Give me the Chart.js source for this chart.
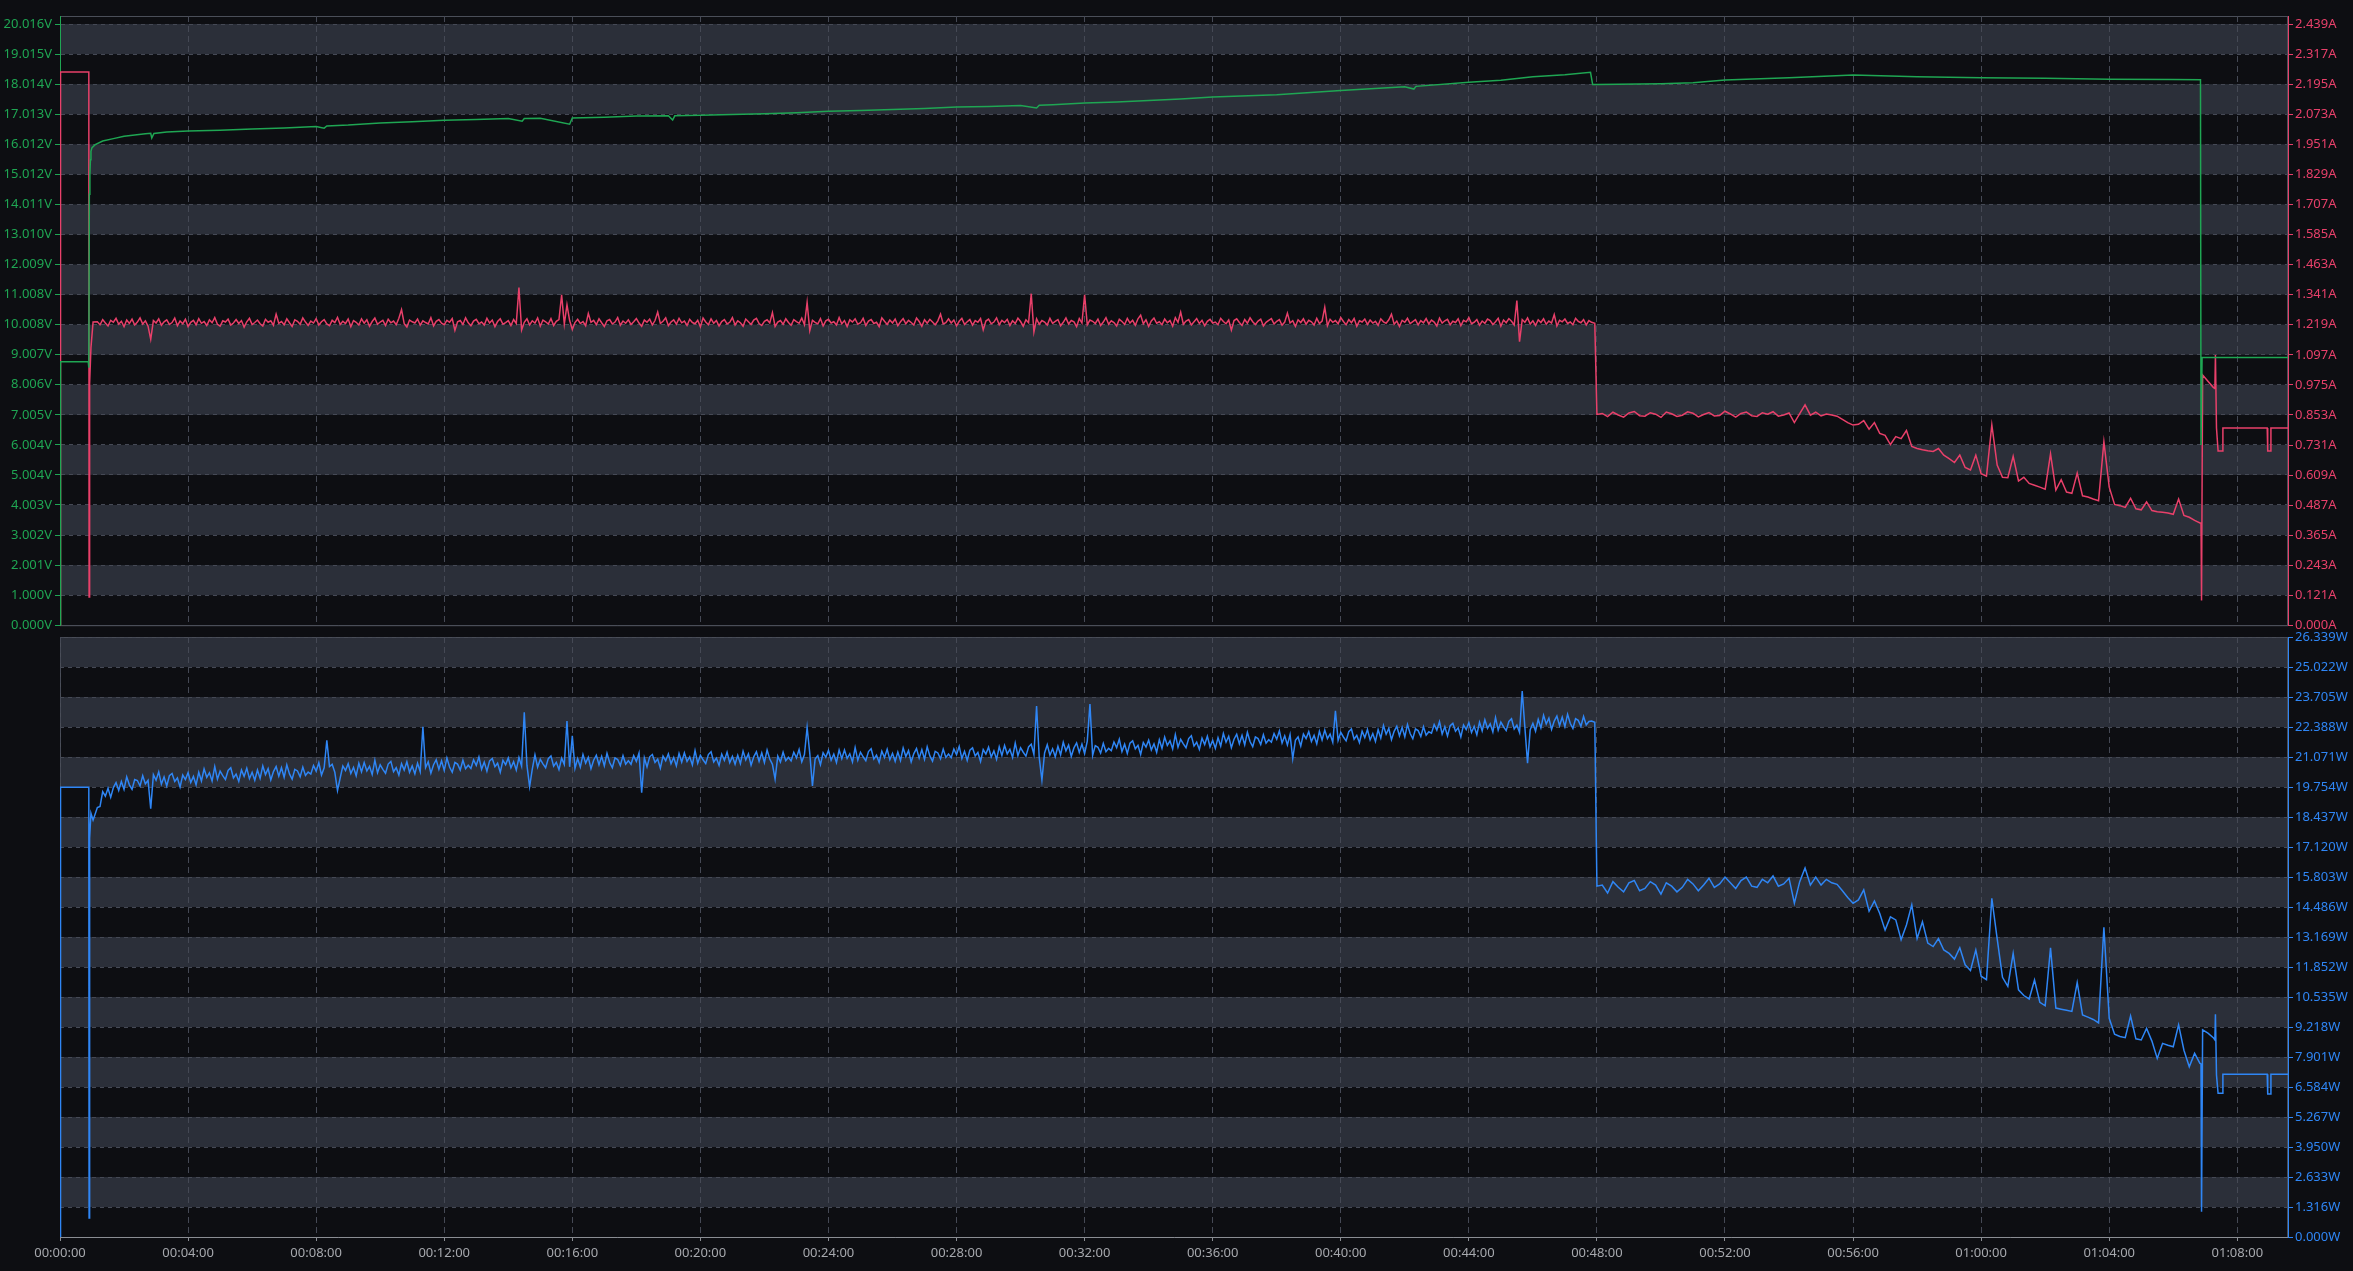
<!DOCTYPE html>
<html lang="en">
<head>
    <meta charset="UTF-8">
    <title>Voltage / Current / Power</title>
    <script src="https://cdn.jsdelivr.net/npm/chart.js"></script>
    <style>
        html, body { margin: 0; padding: 0; background: #0d0e12; overflow: hidden; }
        .wrap { position: absolute; left: 0; width: 2353px; }
        #topWrap { top: 0; height: 636px; }
        #bottomWrap { top: 624px; height: 647px; }
    </style>
</head>
<body>
    <div class="wrap" id="topWrap"><canvas id="topChart"></canvas></div>
    <div class="wrap" id="bottomWrap"><canvas id="bottomChart"></canvas></div>

    <script>
        // time axis, seconds
        const timeMax = 4175;
        const timeTickStep = 240;

        // axis tick labels as shown
        const voltTicks = [0.000, 1.000, 2.001, 3.002, 4.003, 5.004, 6.004, 7.005, 8.006, 9.007, 10.008,
            11.008, 12.009, 13.010, 14.011, 15.012, 16.012, 17.013, 18.014, 19.015, 20.016];
        const ampTicks = [0.000, 0.121, 0.243, 0.365, 0.487, 0.609, 0.731, 0.853, 0.975, 1.097, 1.219,
            1.341, 1.463, 1.585, 1.707, 1.829, 1.951, 2.073, 2.195, 2.317, 2.439];
        const wattTicks = [0.000, 1.316, 2.633, 3.950, 5.267, 6.584, 7.901, 9.218, 10.535, 11.852, 13.169,
            14.486, 15.803, 17.120, 18.437, 19.754, 21.071, 22.388, 23.705, 25.022, 26.339];

        // voltage (V), irregular samples
        const voltTimes = [0, 1, 53, 54, 55, 56, 57, 58, 60, 66, 80, 100, 120, 140, 160, 170, 172, 176, 200, 240,
            300, 360, 420, 480, 495, 500, 540, 600, 660, 720, 780, 840, 866, 870, 900, 955, 960, 1020, 1080, 1140,
            1148, 1152, 1200, 1260, 1320, 1380, 1440, 1500, 1560, 1620, 1680, 1740, 1800, 1830, 1835, 1860, 1920, 1980, 2040, 2100,
            2160, 2280, 2400, 2520, 2537, 2541, 2640, 2700, 2760, 2820, 2868, 2872, 2880, 3000, 3060, 3120, 3240, 3360, 3480, 3600,
            3720, 3840, 3960, 4011, 4012, 4014, 4175];
        const volts = [0, 8.77, 8.77, 8.57, 14.35, 15.0, 15.5, 15.78, 15.9, 16.0, 16.12, 16.2, 16.28, 16.32, 16.36, 16.38, 16.22, 16.37, 16.42, 16.45,
            16.48, 16.52, 16.55, 16.6, 16.55, 16.62, 16.65, 16.72, 16.76, 16.81, 16.84, 16.87, 16.78, 16.87, 16.88, 16.68, 16.89, 16.91, 16.95, 16.96,
            16.82, 16.96, 16.98, 17.0, 17.03, 17.06, 17.11, 17.14, 17.17, 17.2, 17.25, 17.27, 17.3, 17.22, 17.31, 17.33, 17.39, 17.42, 17.47, 17.52,
            17.59, 17.66, 17.8, 17.93, 17.85, 17.94, 18.08, 18.14, 18.26, 18.33, 18.41, 18.0, 18.0, 18.03, 18.06, 18.15, 18.23, 18.32, 18.26, 18.23,
            18.21, 18.18, 18.17, 18.16, 6.0, 8.91, 8.91];

        // sample grids used by current and power
        const plateauStart = 70, plateauStep = 5;    // 70 s .. 2870 s
        const declineStart = 2890, declineStep = 10; // 2890 s .. 4010 s

        // current (A)
        const ampStartTimes = [0, 1, 54, 54.5, 55, 56, 58, 62];
        const ampStart = [0, 2.244, 2.244, 0.114, 0.44, 0.98, 1.126, 1.23];
        const ampPlateau = [
            1.231, 1.219, 1.240, 1.226, 1.214, 1.237, 1.229, 1.245, 1.221, 1.233, 1.211, 1.238, 1.224, 1.242, 1.218, 1.230, 1.247, 1.222, 1.235, 1.213,
            1.160, 1.236, 1.226, 1.243, 1.217, 1.231, 1.239, 1.220, 1.228, 1.246, 1.215, 1.234, 1.223, 1.241, 1.212, 1.229, 1.237, 1.219, 1.244, 1.225,
            1.232, 1.216, 1.239, 1.227, 1.248, 1.221, 1.213, 1.235, 1.230, 1.242, 1.218, 1.226, 1.240, 1.224, 1.236, 1.209, 1.231, 1.245, 1.220, 1.228,
            1.238, 1.223, 1.214, 1.241, 1.229, 1.235, 1.217, 1.262, 1.225, 1.232, 1.219, 1.243, 1.227, 1.212, 1.239, 1.233, 1.221, 1.247, 1.230, 1.216,
            1.234, 1.226, 1.244, 1.218, 1.231, 1.240, 1.222, 1.215, 1.237, 1.228, 1.249, 1.220, 1.233, 1.224, 1.242, 1.211, 1.236, 1.229, 1.218, 1.243,
            1.225, 1.239, 1.213, 1.232, 1.246, 1.221, 1.230, 1.237, 1.216, 1.241, 1.227, 1.234, 1.219, 1.245, 1.280, 1.223, 1.210, 1.238, 1.231, 1.226,
            1.242, 1.217, 1.235, 1.228, 1.222, 1.248, 1.214, 1.233, 1.240, 1.225, 1.219, 1.237, 1.229, 1.244, 1.196, 1.231, 1.236, 1.220, 1.247, 1.227,
            1.215, 1.234, 1.241, 1.223, 1.230, 1.218, 1.245, 1.226, 1.238, 1.211, 1.232, 1.243, 1.221, 1.228, 1.236, 1.216, 1.240, 1.224, 1.370, 1.198,
            1.229, 1.243, 1.218, 1.235, 1.226, 1.247, 1.213, 1.238, 1.231, 1.222, 1.244, 1.216, 1.233, 1.240, 1.340, 1.221, 1.300, 1.236, 1.200, 1.228,
            1.241, 1.224, 1.232, 1.215, 1.265, 1.229, 1.237, 1.219, 1.243, 1.227, 1.212, 1.235, 1.240, 1.222, 1.230, 1.248, 1.217, 1.234, 1.225, 1.239,
            1.220, 1.231, 1.244, 1.226, 1.213, 1.238, 1.229, 1.242, 1.218, 1.236, 1.270, 1.224, 1.233, 1.247, 1.215, 1.230, 1.239, 1.221, 1.245, 1.227,
            1.234, 1.216, 1.241, 1.228, 1.223, 1.237, 1.211, 1.246, 1.230, 1.219, 1.243, 1.225, 1.236, 1.214, 1.232, 1.240, 1.222, 1.229, 1.248, 1.218,
            1.235, 1.227, 1.213, 1.242, 1.231, 1.220, 1.238, 1.245, 1.224, 1.216, 1.233, 1.239, 1.226, 1.268, 1.212, 1.230, 1.236, 1.221, 1.243, 1.228,
            1.217, 1.240, 1.232, 1.225, 1.246, 1.219, 1.310, 1.195, 1.237, 1.229, 1.222, 1.244, 1.214, 1.235, 1.241, 1.226, 1.231, 1.218, 1.248, 1.223,
            1.236, 1.212, 1.239, 1.230, 1.243, 1.221, 1.227, 1.245, 1.216, 1.234, 1.240, 1.224, 1.229, 1.211, 1.247, 1.233, 1.220, 1.238, 1.226, 1.242,
            1.215, 1.231, 1.244, 1.223, 1.237, 1.228, 1.218, 1.246, 1.232, 1.213, 1.239, 1.225, 1.241, 1.230, 1.219, 1.235, 1.262, 1.222, 1.227, 1.243,
            1.226, 1.238, 1.214, 1.233, 1.245, 1.220, 1.231, 1.240, 1.217, 1.236, 1.229, 1.244, 1.198, 1.234, 1.242, 1.223, 1.230, 1.247, 1.219, 1.237,
            1.228, 1.241, 1.216, 1.235, 1.224, 1.246, 1.232, 1.213, 1.239, 1.227, 1.345, 1.190, 1.243, 1.221, 1.236, 1.230, 1.218, 1.245, 1.225, 1.233,
            1.240, 1.215, 1.229, 1.247, 1.222, 1.236, 1.231, 1.211, 1.244, 1.226, 1.340, 1.219, 1.238, 1.233, 1.224, 1.242, 1.216, 1.230, 1.248, 1.221,
            1.235, 1.228, 1.214, 1.241, 1.232, 1.220, 1.245, 1.226, 1.237, 1.217, 1.243, 1.258, 1.223, 1.239, 1.212, 1.234, 1.246, 1.225, 1.231, 1.219,
            1.242, 1.227, 1.236, 1.213, 1.248, 1.229, 1.270, 1.221, 1.234, 1.240, 1.218, 1.231, 1.244, 1.224, 1.237, 1.215, 1.233, 1.241, 1.226, 1.230,
            1.219, 1.245, 1.232, 1.223, 1.238, 1.197, 1.236, 1.243, 1.228, 1.216, 1.240, 1.225, 1.247, 1.231, 1.220, 1.234, 1.242, 1.214, 1.229, 1.237,
            1.244, 1.222, 1.233, 1.240, 1.217, 1.230, 1.266, 1.226, 1.235, 1.212, 1.239, 1.228, 1.243, 1.221, 1.237, 1.231, 1.218, 1.245, 1.224, 1.234,
            1.290, 1.215, 1.241, 1.229, 1.236, 1.223, 1.248, 1.232, 1.219, 1.240, 1.227, 1.244, 1.213, 1.235, 1.230, 1.242, 1.220, 1.238, 1.226, 1.233,
            1.216, 1.243, 1.231, 1.225, 1.239, 1.262, 1.221, 1.234, 1.212, 1.237, 1.229, 1.245, 1.224, 1.232, 1.240, 1.218, 1.236, 1.227, 1.244, 1.222,
            1.238, 1.230, 1.214, 1.246, 1.226, 1.235, 1.241, 1.219, 1.233, 1.228, 1.243, 1.215, 1.237, 1.231, 1.248, 1.223, 1.229, 1.240, 1.217, 1.234,
            1.225, 1.242, 1.236, 1.220, 1.231, 1.245, 1.213, 1.238, 1.227, 1.244, 1.233, 1.218, 1.317, 1.150, 1.240, 1.229, 1.247, 1.222, 1.235, 1.216,
            1.239, 1.228, 1.243, 1.221, 1.234, 1.226, 1.260, 1.214, 1.237, 1.231, 1.242, 1.224, 1.230, 1.219, 1.245, 1.233, 1.227, 1.240, 1.218, 1.236,
            1.229];
        const ampDropTimes = [2876, 2880];
        const ampDrop = [1.225, 0.855];
        const ampDecline = [
            0.859, 0.846, 0.864, 0.853, 0.844, 0.861, 0.867, 0.850, 0.848, 0.862, 0.856, 0.843, 0.865, 0.858, 0.847, 0.852, 0.866, 0.860, 0.845, 0.855,
            0.863, 0.849, 0.851, 0.868, 0.857, 0.844, 0.859, 0.865, 0.850, 0.847, 0.862, 0.856, 0.866, 0.848, 0.853, 0.861, 0.822, 0.858, 0.894, 0.852,
            0.864, 0.849, 0.857, 0.853,
            0.848, 0.835, 0.822, 0.812, 0.815, 0.830, 0.795, 0.822, 0.778, 0.770, 0.733, 0.765, 0.757, 0.790, 0.725, 0.717, 0.712, 0.708, 0.705, 0.717,
            0.690, 0.676, 0.660, 0.690, 0.640, 0.630, 0.690, 0.615, 0.605, 0.813, 0.650, 0.600, 0.598, 0.685, 0.585, 0.600, 0.575, 0.568, 0.560, 0.552,
            0.695, 0.548, 0.590, 0.540, 0.535, 0.617, 0.525, 0.520, 0.512, 0.505, 0.744, 0.560, 0.490, 0.485, 0.478, 0.515, 0.472, 0.468, 0.500, 0.465,
            0.460, 0.458, 0.455, 0.450, 0.512, 0.445, 0.438, 0.425, 0.415];
        const ampEndTimes = [4012, 4013, 4015, 4025, 4035, 4038, 4039, 4041, 4044, 4052, 4053, 4136, 4137, 4142, 4143, 4175];
        const ampEnd = [0.415, 0.10, 1.015, 0.99, 0.965, 0.96, 1.096, 0.80, 0.707, 0.707, 0.80, 0.80, 0.707, 0.707, 0.80, 0.80];

        // power (W)
        const wattStartTimes = [0, 1, 54, 54.5, 55, 56, 58, 62];
        const wattStart = [0, 19.74, 19.74, 0.83, 15.0, 17.5, 18.6, 18.3];
        const wattPlateau = [
            18.85, 18.90, 19.55, 19.35, 19.70, 19.30, 19.73, 19.95, 19.60, 20.00, 19.65, 20.20, 19.85, 19.65, 20.08, 20.04, 19.80, 20.25, 19.89, 20.05,
            18.80, 20.30, 20.05, 20.42, 19.88, 20.20, 19.80, 20.25, 20.35, 20.00, 20.15, 19.75, 20.28, 20.08, 20.38, 19.95, 20.22, 19.85, 20.40, 20.02,
            20.55, 20.18, 20.38, 20.02, 20.65, 20.10, 20.45, 20.25, 20.08, 20.48, 20.60, 20.15, 20.32, 20.00, 20.50, 20.22, 20.58, 20.12, 20.40, 20.05,
            20.50, 20.13, 20.68, 20.30, 20.56, 20.06, 20.43, 20.65, 20.23, 20.60, 20.18, 20.73, 20.33, 20.10, 20.53, 20.46, 20.20, 20.63, 20.26, 20.41,
            20.32, 20.70, 20.45, 20.82, 20.28, 20.60, 21.80, 20.65, 20.75, 20.40, 19.60, 20.15, 20.68, 20.48, 20.78, 20.35, 20.62, 20.25, 20.80, 20.42,
            20.83, 20.46, 20.66, 20.30, 20.93, 20.38, 20.73, 20.53, 20.36, 20.76, 20.88, 20.43, 20.60, 20.28, 20.78, 20.50, 20.86, 20.40, 20.68, 20.33,
            20.80, 20.43, 22.40, 20.60, 20.86, 20.36, 20.73, 20.95, 20.53, 20.90, 20.48, 21.03, 20.63, 20.40, 20.83, 20.76, 20.50, 20.93, 20.56, 20.71,
            20.57, 20.95, 20.70, 21.07, 20.53, 20.85, 20.45, 20.90, 21.00, 20.65, 20.80, 20.40, 20.93, 20.73, 21.03, 20.60, 20.87, 20.50, 21.05, 20.67,
            23.03, 20.70, 19.77, 20.54, 21.17, 20.62, 20.97, 20.77, 20.60, 21.00, 21.12, 20.67, 20.84, 20.52, 21.02, 20.74, 22.65, 20.64, 22.00, 20.57,
            21.00, 20.63, 21.18, 20.80, 21.06, 20.56, 20.93, 21.15, 20.73, 21.10, 20.68, 21.23, 20.83, 20.60, 21.03, 20.96, 20.70, 21.13, 20.76, 20.91,
            20.75, 21.13, 20.88, 21.25, 19.50, 21.03, 20.63, 21.08, 21.18, 20.83, 20.98, 20.58, 21.11, 20.91, 21.21, 20.78, 21.05, 20.68, 21.23, 20.85,
            21.25, 20.88, 21.08, 20.72, 21.35, 20.80, 21.15, 20.95, 20.78, 21.18, 21.30, 20.85, 21.02, 20.70, 21.20, 20.92, 21.28, 20.82, 21.10, 20.75,
            21.15, 20.78, 21.33, 20.95, 21.21, 20.71, 21.08, 21.30, 20.88, 21.25, 20.83, 21.38, 20.98, 20.75, 20.10, 21.11, 20.85, 21.28, 20.91, 21.06,
            20.90, 21.28, 21.03, 21.40, 20.86, 21.18, 22.37, 21.23, 19.80, 20.98, 21.13, 20.73, 21.26, 21.06, 21.36, 20.93, 21.20, 20.83, 21.38, 21.00,
            21.38, 21.01, 21.21, 20.85, 21.48, 20.93, 21.28, 21.08, 20.91, 21.31, 21.43, 20.98, 21.15, 20.83, 21.33, 21.05, 21.41, 20.95, 21.23, 20.88,
            21.29, 20.92, 21.47, 21.09, 21.35, 20.85, 21.22, 21.44, 21.02, 21.39, 20.97, 21.52, 21.12, 20.89, 21.32, 21.25, 20.99, 21.42, 21.05, 21.20,
            21.04, 21.42, 21.17, 21.54, 21.00, 21.32, 20.92, 21.37, 21.47, 21.12, 21.27, 20.87, 21.40, 21.20, 21.50, 21.07, 21.34, 20.97, 21.52, 21.14,
            21.58, 21.21, 21.41, 21.05, 21.68, 21.13, 21.48, 21.28, 21.11, 21.51, 21.63, 21.18, 23.31, 21.03, 20.06, 21.25, 21.61, 21.15, 21.43, 21.08,
            21.54, 21.17, 21.72, 21.34, 21.60, 21.10, 21.47, 21.69, 21.27, 21.64, 21.22, 21.77, 23.40, 21.14, 21.57, 21.50, 21.24, 21.67, 21.30, 21.45,
            21.35, 21.73, 21.48, 21.85, 21.31, 21.63, 21.23, 21.68, 21.78, 21.43, 21.58, 21.18, 21.71, 21.51, 21.81, 21.38, 21.65, 21.28, 21.83, 21.45,
            21.95, 21.58, 21.78, 21.42, 22.05, 21.50, 21.85, 21.65, 21.48, 21.88, 22.00, 21.55, 21.72, 21.40, 21.90, 21.62, 21.98, 21.52, 21.80, 21.45,
            21.92, 21.55, 22.10, 21.72, 21.98, 21.48, 21.85, 22.07, 21.65, 22.02, 21.60, 22.15, 21.75, 21.52, 21.95, 21.88, 21.62, 22.05, 21.68, 21.83,
            21.72, 22.10, 21.85, 22.22, 21.68, 22.00, 21.60, 22.05, 21.00, 21.80, 21.95, 21.55, 22.08, 21.88, 22.18, 21.75, 22.02, 21.65, 22.20, 21.82,
            22.25, 21.88, 22.08, 21.72, 23.10, 21.80, 22.15, 21.95, 21.78, 22.18, 22.30, 21.85, 22.02, 21.70, 22.20, 21.92, 22.28, 21.82, 22.10, 21.75,
            22.27, 21.90, 22.45, 22.07, 22.33, 21.83, 22.20, 22.42, 22.00, 22.37, 21.95, 22.50, 22.10, 21.87, 22.30, 22.23, 21.97, 22.40, 22.03, 22.18,
            22.12, 22.50, 22.25, 22.62, 22.08, 22.40, 22.00, 22.45, 22.55, 22.20, 22.35, 21.95, 22.48, 22.28, 22.58, 22.15, 22.42, 22.05, 22.60, 22.22,
            22.70, 22.33, 22.53, 22.17, 22.80, 22.25, 22.60, 22.40, 22.23, 22.63, 22.75, 22.30, 22.47, 22.15, 23.97, 22.37, 20.80, 22.27, 22.55, 22.20,
            22.72, 22.35, 22.90, 22.52, 22.78, 22.28, 22.65, 22.87, 22.45, 22.82, 22.40, 22.95, 22.55, 22.32, 22.75, 22.68, 22.42, 22.85, 22.48, 22.63,
            22.65];
        const wattDropTimes = [2876, 2880];
        const wattDrop = [22.6, 15.4];
        const wattDecline = [
            15.45, 15.10, 15.60, 15.35, 15.15, 15.55, 15.65, 15.20, 15.30, 15.60, 15.45, 15.05, 15.55, 15.40, 15.15, 15.35, 15.70, 15.50, 15.20, 15.45,
            15.75, 15.35, 15.50, 15.80, 15.55, 15.30, 15.65, 15.80, 15.40, 15.35, 15.70, 15.55, 15.85, 15.40, 15.50, 15.75, 14.65, 15.60, 16.20, 15.45,
            15.80, 15.45, 15.70, 15.55,
            15.48, 15.20, 14.90, 14.65, 14.80, 15.24, 14.30, 14.75, 14.20, 13.47, 14.05, 13.92, 13.05, 13.70, 14.58, 13.10, 13.84, 12.90, 12.75, 13.10,
            12.60, 12.45, 12.20, 12.70, 11.95, 11.70, 12.60, 11.45, 11.30, 14.87, 13.10, 11.40, 11.00, 12.45, 10.85, 10.60, 10.45, 11.28, 10.30, 10.15,
            12.69, 10.05, 10.00, 9.95, 9.90, 11.17, 9.75, 9.65, 9.55, 9.40, 13.60, 9.60, 8.90, 8.80, 8.75, 9.70, 8.70, 8.65, 9.16, 8.60,
            7.84, 8.50, 8.42, 8.35, 9.31, 8.20, 7.47, 8.06, 7.62];
        const wattEndTimes = [4012, 4013, 4015, 4025, 4035, 4038, 4039, 4041, 4044, 4052, 4053, 4136, 4137, 4142, 4143, 4175];
        const wattEnd = [7.6, 1.11, 9.09, 8.95, 8.75, 8.65, 9.78, 7.11, 6.31, 6.31, 7.14, 7.14, 6.28, 6.28, 7.14, 7.14];

        // colours
        const bandColor = '#2b2f39';
        const gridColor = '#454955';
        const frameColor = '#4a4e58';
        const green = '#1fa653';
        const red = '#e8406a';
        const blue = '#2f86f5';
        const font = { family: 'Noto Sans', size: 13 };

        // helpers to turn the arrays into {x, y} points
        function pairs(times, values) {
            return times.map((t, i) => ({ x: t, y: values[i] }));
        }
        function sampled(start, step, values) {
            return values.map((v, i) => ({ x: start + i * step, y: v }));
        }

        const voltData = pairs(voltTimes, volts);
        const ampData = [].concat(
            pairs(ampStartTimes, ampStart),
            sampled(plateauStart, plateauStep, ampPlateau),
            pairs(ampDropTimes, ampDrop),
            sampled(declineStart, declineStep, ampDecline),
            pairs(ampEndTimes, ampEnd));
        const wattData = [].concat(
            pairs(wattStartTimes, wattStart),
            sampled(plateauStart, plateauStep, wattPlateau),
            pairs(wattDropTimes, wattDrop),
            sampled(declineStart, declineStep, wattDecline),
            pairs(wattEndTimes, wattEnd));

        function fmtTime(sec) {
            const h = Math.floor(sec / 3600);
            const m = Math.floor((sec % 3600) / 60);
            const s = Math.round(sec % 60);
            return [h, m, s].map(n => String(n).padStart(2, '0')).join(':');
        }

        // alternating bands between ticks + plot frame
        const bandPlugin = {
            id: 'bands',
            beforeDraw(chart, args, opts) {
                const { ctx, chartArea: a } = chart;
                const scale = chart.scales[opts.axis];
                ctx.save();
                ctx.fillStyle = bandColor;
                for (let i = 1; i < opts.ticks.length - 1; i += 2) {
                    const y1 = scale.getPixelForValue(opts.ticks[i]);
                    const y2 = scale.getPixelForValue(opts.ticks[i + 1]);
                    ctx.fillRect(a.left, y2, a.right - a.left, y1 - y2);
                }
                ctx.strokeStyle = frameColor;
                ctx.lineWidth = 1;
                ctx.strokeRect(a.left + 0.5, a.top + 0.5, a.right - a.left - 1, a.bottom - a.top);
                ctx.restore();
            }
        };

        function fixedTicks(list) {
            return scale => { scale.ticks = list.map(v => ({ value: v })); };
        }

        function timeAxis(showLabels) {
            return {
                type: 'linear',
                min: 0,
                max: timeMax,
                ticks: {
                    display: showLabels,
                    stepSize: timeTickStep,
                    includeBounds: false,
                    color: '#a6a8ad',
                    font: font,
                    padding: 4,
                    maxRotation: 0,
                    autoSkip: false,
                    callback: v => fmtTime(v)
                },
                grid: {
                    color: gridColor,
                    drawTicks: showLabels,
                    tickLength: 4,
                    tickColor: '#8a8d93'
                },
                border: { color: showLabels ? '#8a8d93' : frameColor, dash: [6, 4] },
                afterFit: s => { s.height = showLabels ? 34 : 7; }
            };
        }

        const lineStyle = { pointRadius: 0, borderWidth: 1.5, tension: 0, fill: false };

        new Chart(document.getElementById('topChart'), {
            type: 'line',
            data: {
                datasets: [
                    Object.assign({ label: 'Voltage', data: voltData, borderColor: green, yAxisID: 'yV' }, lineStyle),
                    Object.assign({ label: 'Current', data: ampData, borderColor: red, yAxisID: 'yA' }, lineStyle)
                ]
            },
            options: {
                responsive: true,
                maintainAspectRatio: false,
                animation: false,
                parsing: false,
                normalized: true,
                layout: { autoPadding: false, padding: { top: 16, left: 0, right: 0, bottom: 0 } },
                scales: {
                    x: timeAxis(false),
                    yV: {
                        type: 'linear',
                        position: 'left',
                        min: 0,
                        max: 20.283,
                        afterBuildTicks: fixedTicks(voltTicks),
                        ticks: { color: green, font: font, padding: 3, callback: v => v.toFixed(3) + 'V' },
                        grid: { color: gridColor, drawTicks: true, tickLength: 5, tickColor: green },
                        border: { color: green, dash: [4, 4] },
                        afterFit: s => { s.width = 60; }
                    },
                    yA: {
                        type: 'linear',
                        position: 'right',
                        min: 0,
                        max: 2.4716,
                        afterBuildTicks: fixedTicks(ampTicks),
                        ticks: { color: red, font: font, padding: 2, callback: v => v.toFixed(3) + 'A' },
                        grid: { drawOnChartArea: false, drawTicks: true, tickLength: 5, tickColor: red },
                        border: { color: red },
                        afterFit: s => { s.width = 65; }
                    }
                },
                plugins: {
                    legend: { display: false },
                    tooltip: { enabled: false },
                    bands: { axis: 'yV', ticks: voltTicks }
                }
            },
            plugins: [bandPlugin]
        });

        new Chart(document.getElementById('bottomChart'), {
            type: 'line',
            data: {
                datasets: [
                    Object.assign({ label: 'Power', data: wattData, borderColor: blue, yAxisID: 'yW' }, lineStyle)
                ]
            },
            options: {
                responsive: true,
                maintainAspectRatio: false,
                animation: false,
                parsing: false,
                normalized: true,
                layout: { autoPadding: false, padding: { top: 13, left: 60, right: 0, bottom: 0 } },
                scales: {
                    x: timeAxis(true),
                    yW: {
                        type: 'linear',
                        position: 'right',
                        min: 0,
                        max: 26.339,
                        afterBuildTicks: fixedTicks(wattTicks),
                        ticks: { color: blue, font: font, padding: 2, callback: v => v.toFixed(3) + 'W' },
                        grid: { color: gridColor, drawTicks: true, tickLength: 5, tickColor: blue },
                        border: { color: blue, dash: [4, 4] },
                        afterFit: s => { s.width = 65; }
                    }
                },
                plugins: {
                    legend: { display: false },
                    tooltip: { enabled: false },
                    bands: { axis: 'yW', ticks: wattTicks }
                }
            },
            plugins: [bandPlugin]
        });
    </script>
</body>
</html>
